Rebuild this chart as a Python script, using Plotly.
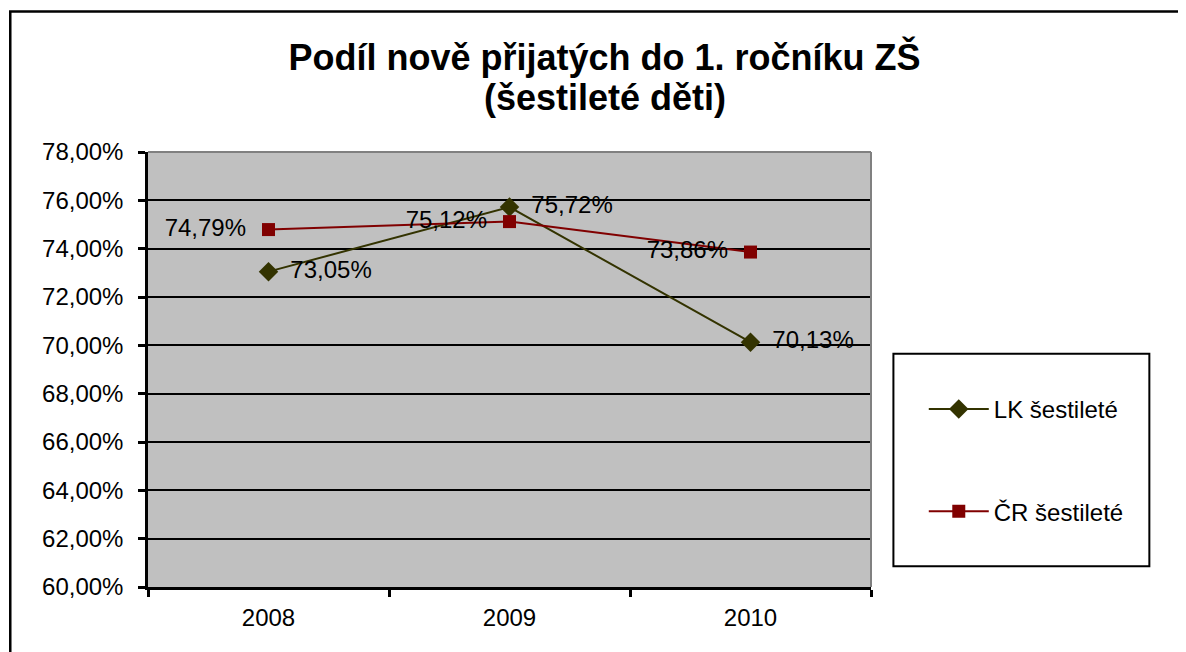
import plotly.graph_objects as go

years = ["2008", "2009", "2010"]
lk_values = [73.05, 75.72, 70.13]
cr_values = [74.79, 75.12, 73.86]
series_names = ["LK šestileté", "ČR šestileté"]
y_tick_values = [60, 62, 64, 66, 68, 70, 72, 74, 76, 78]
y_tick_labels = ["60,00%", "62,00%", "64,00%", "66,00%", "68,00%",
                 "70,00%", "72,00%", "74,00%", "76,00%", "78,00%"]
title_lines = ["Podíl nově přijatých do 1. ročníku ZŠ", "(šestileté děti)"]


def fmt(v):
    return f"{v:.2f}%".replace(".", ",")


FONT = "Liberation Sans, Arial, sans-serif"
LK_COLOR = "#333300"
CR_COLOR = "#800000"

fig = go.Figure()
fig.add_trace(go.Scatter(
    x=years, y=lk_values, name=series_names[0], legendgroup="lk",
    mode="lines+markers+text",
    line=dict(color=LK_COLOR, width=2),
    marker=dict(symbol="diamond", size=15, color=LK_COLOR),
    text=["\u00a0\u2009" + fmt(v) for v in lk_values], textposition="middle right",
    textfont=dict(family=FONT, size=24, color="black"),
))
fig.add_trace(go.Scatter(
    x=years, y=cr_values, name=series_names[1], legendgroup="cr",
    mode="lines+markers+text",
    line=dict(color=CR_COLOR, width=2),
    marker=dict(symbol="square", size=13, color=CR_COLOR),
    text=[fmt(v) + "\u00a0\u00a0" for v in cr_values], textposition="middle left",
    textfont=dict(family=FONT, size=24, color="black"),
))

fig.update_layout(
    width=1186, height=652,
    margin=dict(l=140, r=323, t=144, b=73),
    paper_bgcolor="white",
    plot_bgcolor="#C0C0C0",
    font=dict(family=FONT, size=24, color="black"),
    title=dict(
        text="<b>" + title_lines[0] + "</b>",
        x=0.503, xanchor="center", xref="container",
        y=0.925, yanchor="middle", yref="container",
        font=dict(family=FONT, size=36, color="black"),
    ),
    annotations=[
        dict(text="<b>" + title_lines[1] + "</b>", showarrow=False,
             xref="paper", yref="paper", x=0.632, y=1.126,
             xanchor="center", yanchor="middle",
             font=dict(family=FONT, size=36, color="black")),
    ],
    showlegend=True,
    legend=dict(
        x=1.073, xanchor="left", y=0.46, yanchor="top",
        bgcolor="rgba(0,0,0,0)", borderwidth=0,
        font=dict(family=FONT, size=24, color="black"),
        tracegroupgap=68, traceorder="grouped",
        itemwidth=60,
    ),
    xaxis=dict(
        type="category", categoryorder="array", categoryarray=years,
        range=[-0.5, 2.5],
        showline=True, linecolor="black", linewidth=2.5,
        ticks="outside", tickson="boundaries", ticklen=7, tickwidth=2.5,
        tickcolor="black", showgrid=False, zeroline=False,
        tickfont=dict(family=FONT, size=24, color="black"),
        ticklabelstandoff=7,
    ),
    yaxis=dict(
        range=[60, 78], tickvals=y_tick_values, ticktext=y_tick_labels,
        showline=True, linecolor="black", linewidth=2.5,
        ticks="outside", ticklen=7, tickwidth=2.5, tickcolor="black",
        showgrid=True, gridcolor="black", gridwidth=1.5, zeroline=False,
        tickfont=dict(family=FONT, size=24, color="black"),
        ticklabelstandoff=10,
    ),
    shapes=[
        # outer chart border
        dict(type="rect", xref="paper", yref="paper",
             x0=-0.1905, x1=1.7, y0=-0.4, y1=1.323,
             line=dict(color="black", width=2.5), layer="below"),
        # plot area top/right border
        dict(type="line", xref="paper", yref="paper", x0=0, x1=1, y0=1, y1=1,
             line=dict(color="#808080", width=2), layer="above"),
        dict(type="line", xref="paper", yref="paper", x0=1, x1=1, y0=0, y1=1,
             line=dict(color="#808080", width=2), layer="above"),
        # legend box
        dict(type="rect", xref="paper", yref="paper",
             x0=1.031, x1=1.385, y0=0.0477, y1=0.536,
             line=dict(color="black", width=2), layer="below"),
    ],
)

fig.write_html("out.html")
